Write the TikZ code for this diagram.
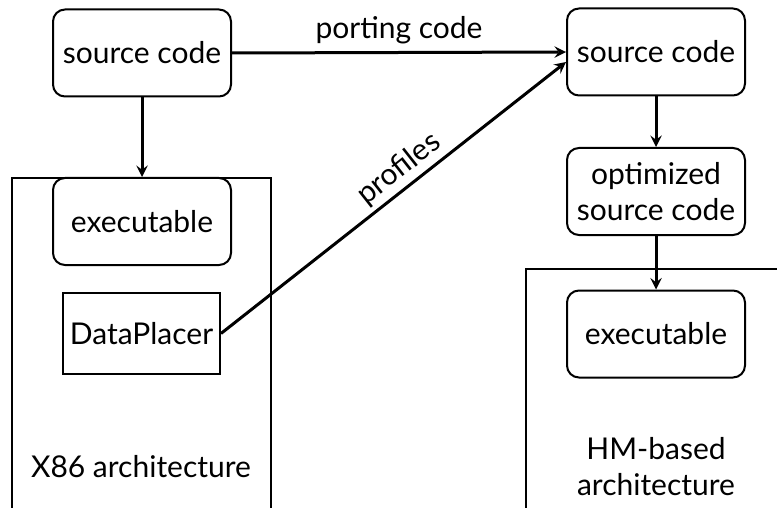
\documentclass[tikz,border=0pt]{standalone}
\usepackage{fontspec}
\setmainfont{Lato}
\usetikzlibrary{arrows}
\tikzstyle{code} = [rectangle, rounded corners=6pt, minimum width=89pt, minimum height=43.5pt, text centered, align=center, draw=black, line width=1pt]
\tikzstyle{tool} = [rectangle, minimum width=78.5pt, minimum height=40.5pt, text centered, draw=black, line width=1pt]
\tikzstyle{arch} = [rectangle, draw=black, line width=1pt]
\tikzstyle{arrow} = [line width=1.5pt,->,>=stealth]

\begin{document}
\begin{tikzpicture}[x=0.5pt, y=-0.5pt, font=\fontsize{15}{18}\selectfont]
        \useasboundingbox (0,0) rectangle (777,508);
        \clip (0,0) rectangle (777,508);
        % the two machines
        \node (x86) [arch, minimum width=129.5pt, minimum height=171pt] at (141.5,349) {};
        \node (hm) [arch, minimum width=137pt, minimum height=125.5pt] at (663,394.5) {};

        \node (src) [code] at (142,53) {source code};
        \node (exe) [code] at (142,221.5) {executable};
        \node (dp) [tool] at (141.5,333.5) {DataPlacer};
        \node (x86label) at (141,467) {X86 architecture};

        \node (port) [code] at (656,52) {source code};
        \node (opt) [code] at (656,191.5) {optimized\\source code};
        \node (hmexe) [code] at (656,334) {executable};
        \node (hmlabel) [align=center] at (656,467) {HM-based\\architecture};

        \draw [arrow] (src) -- (exe);
        \draw [arrow] (src.east) -- (port.west) node[midway, above] {porting code};
        \draw [arrow] (dp.east) -- ([yshift=-5pt]port.west) node[pos=0.55, above, sloped, inner sep=2pt] {profiles};
        \draw [arrow] (port) -- (opt);
        \draw [arrow] (opt) -- (hmexe);
    \end{tikzpicture}
\end{document}
